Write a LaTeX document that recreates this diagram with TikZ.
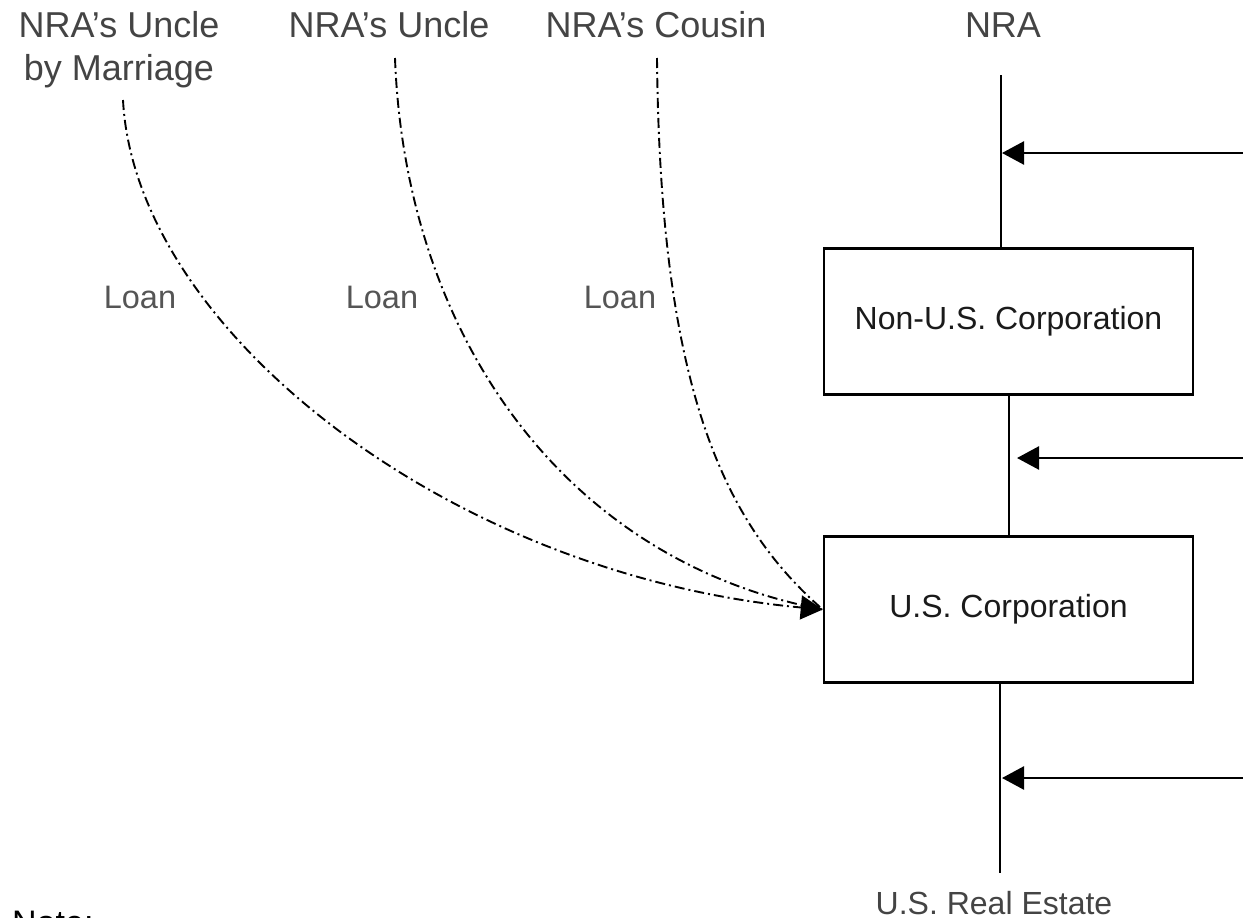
\documentclass[tikz,border=0pt]{standalone}
\usepackage{fontspec}
\setmainfont{Liberation Sans}
\usetikzlibrary{arrows.meta}
\definecolor{labgray}{HTML}{444444}
\definecolor{loangray}{HTML}{555555}
\definecolor{boxtext}{HTML}{1A1A1A}
\begin{document}
\begin{tikzpicture}[x=1pt,y=-1pt,
  toplabel/.style={text=labgray,font=\fontsize{36}{43}\selectfont,align=center,inner sep=0pt},
  loanlabel/.style={text=loangray,font=\fontsize{32.5}{34}\selectfont,inner sep=0pt},
  corpbox/.style={draw,line width=2.5pt,minimum width=369pt,minimum height=146pt,text=boxtext,font=\fontsize{32}{36}\selectfont},
  solidline/.style={line width=2.5pt},
  flowarrow/.style={line width=2.5pt,-{Triangle[length=22pt,width=23pt]}},
  loanline/.style={line width=1.9pt,dash pattern=on 10pt off 4pt on 2pt off 4pt}]
\useasboundingbox (0,0) rectangle (1243,918);
% top labels
\node[toplabel,anchor=north] (uncleM) at (119,11) {NRA’s Uncle\\by Marriage};
\node[toplabel,anchor=base] (uncle) at (389,37) {NRA’s Uncle};
\node[toplabel,anchor=base] (cousin) at (656,37) {NRA’s Cousin};
\node[toplabel,anchor=base] (nra) at (1003,37) {NRA};
% boxes
\node[corpbox] (nonus) at (1008.5,321.5) {\raisebox{-2pt}{Non-U.S. Corporation}};
\node[corpbox] (us) at (1008.5,609.5) {\raisebox{-2pt}{U.S. Corporation}};
\node[text=labgray,font=\fontsize{32}{34}\selectfont,inner sep=0pt,anchor=base] (re) at (994,914) {U.S. Real Estate};
\node[anchor=north west,inner sep=0pt,font=\fontsize{34}{36}\selectfont] (note) at (12,911) {Note:};
% loan labels
\node[loanlabel] (loan1) at (140,297) {Loan};
\node[loanlabel] (loan2) at (382,297) {Loan};
\node[loanlabel] (loan3) at (620,297) {Loan};
% coordinates
\coordinate (nratop) at (1001,75);
\coordinate (midtop) at (1009,395);
\coordinate (midbot) at (1009,537);
\coordinate (bottop) at (1000,682);
\coordinate (botend) at (1000,873);
\coordinate (r1) at (1243,153);
\coordinate (t1) at (1002,153);
\coordinate (r2) at (1243,458);
\coordinate (t2) at (1017,458);
\coordinate (r3) at (1243,778);
\coordinate (t3) at (1002,778);
\coordinate (s1) at (123,100);
\coordinate (s2) at (395,58);
\coordinate (s3) at (657,58);
% vertical lines
\draw[solidline] (nratop) -- (nonus.north -| nratop);
\draw[solidline] (midtop) -- (midbot);
\draw[solidline] (bottop) -- (botend);
% arrows from right
\draw[flowarrow] (r1) -- (t1);
\draw[flowarrow] (r2) -- (t2);
\draw[flowarrow] (r3) -- (t3);
% loans
\draw[loanline] (s3) .. controls (660,380) and (720,520) .. (us.west);
\draw[loanline] (s2) .. controls (405,330) and (560,560) .. (us.west);
\draw[loanline,-{Triangle[length=22pt,width=24pt]}] (s1) .. controls (135,330) and (450,575) .. (us.west);
\end{tikzpicture}
\end{document}
